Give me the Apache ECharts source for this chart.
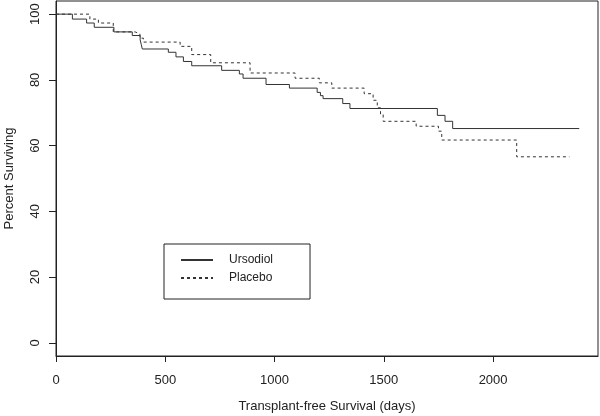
<!DOCTYPE html>
<html>
<head>
<meta charset="utf-8">
<script src="https://cdn.jsdelivr.net/npm/echarts@6/dist/echarts.min.js"></script>
<style>
html,body{margin:0;padding:0;background:#fff;}
#chart{width:600px;height:416px;}
</style>
</head>
<body>
<div id="chart"></div>
<script>
// Data (Kaplan-Meier step curves)
var ursoTimes = [0, 75, 140, 175, 265, 349, 385, 390, 395, 514, 549, 583, 621, 758, 839, 856, 961, 1068, 1195, 1210, 1222, 1312, 1345, 1745, 1780, 1815, 2394];
var ursoSurv  = [100, 98.5, 97.3, 96, 94.6, 93.5, 92.2, 90.8, 89.4, 88.4, 87, 85.6, 84.3, 82.9, 81.8, 80.5, 78.6, 77.5, 76.2, 75.2, 74.3, 72.8, 71.3, 69.2, 67.4, 65.2, 65.2];
var placeboTimes = [0, 155, 194, 262, 362, 384, 400, 568, 621, 708, 888, 1094, 1205, 1262, 1410, 1451, 1470, 1485, 1497, 1648, 1750, 1765, 2108, 2349];
var placeboSurv  = [100, 98.5, 97.3, 94.6, 94.0, 92.7, 91.5, 90.2, 87.7, 85.2, 82.1, 80.5, 79.1, 77.5, 75.8, 73.8, 71.5, 69.5, 67.4, 65.9, 64.4, 61.7, 56.6, 56.6];
var xTicks = [0, 500, 1000, 1500, 2000];
var yTicks = [0, 20, 40, 60, 80, 100];
var seriesNames = ['Ursodiol', 'Placebo'];
var xTitle = 'Transplant-free Survival (days)';
var yTitle = 'Percent Surviving';

function pairs(t, s) { return t.map(function (v, i) { return [v, s[i]]; }); }
function plain(v) { return String(v); }

var FONT = '"Liberation Sans", Arial, Helvetica, sans-serif';
var INK = '#222';

var chart = echarts.init(document.getElementById('chart'), null, {renderer: 'canvas'});
chart.setOption({
  animation: false,
  backgroundColor: '#fff',
  grid: {left: 56, right: 2, top: 1, bottom: 60, show: true, borderColor: INK, borderWidth: 1,
         containLabel: false, outerBoundsMode: 'none'},
  xAxis: {
    type: 'value', min: 0, max: 2480,
    name: xTitle, nameLocation: 'middle', nameGap: 44,
    nameTextStyle: {fontFamily: FONT, fontSize: 13, color: INK},
    axisLine: {show: true, onZero: false, lineStyle: {color: INK, width: 1}},
    axisTick: {show: true, inside: false, length: 6, lineStyle: {color: INK}, customValues: xTicks},
    axisLabel: {fontFamily: FONT, fontSize: 13, color: INK, margin: 18, customValues: xTicks, formatter: plain},
    splitLine: {show: false}
  },
  yAxis: {
    type: 'value', min: -4, max: 104,
    name: yTitle, nameLocation: 'middle', nameGap: 40, nameRotate: 90,
    nameTextStyle: {fontFamily: FONT, fontSize: 13, color: INK},
    axisLine: {show: true, onZero: false, lineStyle: {color: INK, width: 1}},
    axisTick: {show: true, inside: false, length: 7, lineStyle: {color: INK}, customValues: yTicks},
    axisLabel: {fontFamily: FONT, fontSize: 13, color: INK, margin: 14, rotate: 90, customValues: yTicks, formatter: plain},
    splitLine: {show: false}
  },
  legend: {
    left: 164, top: 244, orient: 'vertical',
    padding: [10, 37, 15, 16], itemGap: 6, itemWidth: 32, itemHeight: 12,
    borderColor: INK, borderWidth: 1,
    itemStyle: {opacity: 0},
    textStyle: {fontFamily: FONT, fontSize: 12, color: INK, padding: [0, 0, 0, 11]},
    data: seriesNames
  },
  series: [
    {
      name: seriesNames[0], type: 'line', step: 'end', symbol: 'none',
      data: pairs(ursoTimes, ursoSurv),
      lineStyle: {color: '#333', width: 1, type: 'solid'},
      itemStyle: {color: '#333'}
    },
    {
      name: seriesNames[1], type: 'line', step: 'end', symbol: 'none',
      data: pairs(placeboTimes, placeboSurv),
      lineStyle: {color: '#333', width: 1, type: [3, 3]},
      itemStyle: {color: '#333'}
    }
  ]
});
</script>
</body>
</html>
